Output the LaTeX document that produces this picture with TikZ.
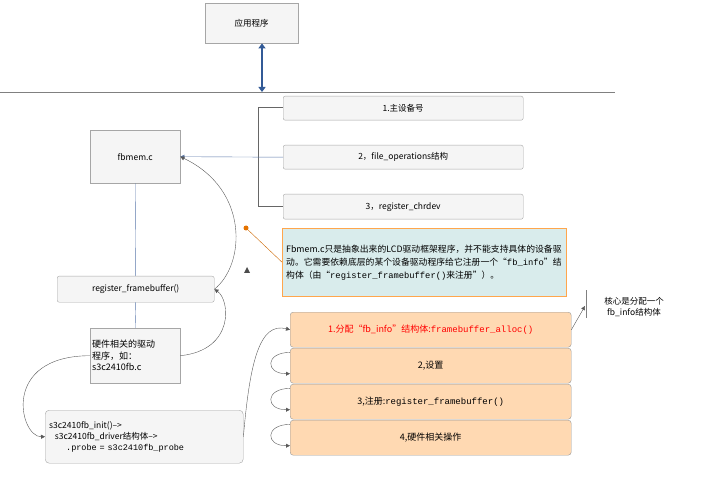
\documentclass[tikz,border=0pt]{standalone}
\usepackage{fontspec}
\setmainfont{Noto Sans CJK SC}
\setmonofont{Liberation Mono}
\XeTeXlinebreaklocale "zh"
\XeTeXlinebreakskip=0pt plus 1pt
\definecolor{LinkBlue}{RGB}{50,90,150}
\definecolor{ThinBlue}{RGB}{90,120,170}
\usetikzlibrary{arrows.meta,calc}
\begin{document}
\begin{tikzpicture}[x=1pt,y=-1pt,font=\fontsize{8.5}{11}\selectfont,
  box/.style={draw=gray!70,fill=gray!8,rounded corners=2pt,inner sep=0pt,anchor=north west},
  obox/.style={draw=gray!80,fill=orange!30,rounded corners=3pt,inner sep=0pt,anchor=north west,minimum width=281pt,minimum height=35pt,font=\fontsize{9}{11}\selectfont},
  curv/.style={draw=gray!70!black,-{Triangle[length=4pt,width=4pt]}},
  blu/.style={draw=ThinBlue}]
\useasboundingbox (0,0) rectangle (701,478);
\node[box,rounded corners=0pt,minimum width=93pt,minimum height=40pt] (app) at (205,3) {应用程序};
\coordinate (hl) at (0,92); \coordinate (hr) at (615,92);
\draw[gray] (hl) -- (hr);
\coordinate (ab) at (262,92);
\draw[LinkBlue,line width=1.8pt,{Triangle[length=5pt,width=7pt]}-{Triangle[length=5pt,width=7pt]}] (app.south -| ab) -- (ab);
\node[box,minimum width=240pt,minimum height=24pt] (r1) at (283,96) {1.主设备号};
\node[box,minimum width=240pt,minimum height=24pt] (r2) at (283,145) {2，file\_operations结构};
\node[box,minimum width=240pt,minimum height=25pt] (r3) at (283,194) {3，register\_chrdev};
\coordinate (b1) at (258,107); \coordinate (b3) at (258,206);
\draw[gray!80!black] (r1.west |- b1) -- (b1) -- (b3) -- (r3.west |- b3);
\node[box,rounded corners=0pt,minimum width=90pt,minimum height=53pt] (fb) at (90,130) {fbmem.c};
\draw[blu,-{Triangle[length=4pt,width=4pt]}] (r2.west) -- (fb.east);
\node[box,minimum width=157pt,minimum height=26pt] (reg) at (57,276) {register\_framebuffer()};
\node[box,rounded corners=0pt,minimum width=90pt,minimum height=55pt,align=left,text width=86pt,inner sep=2pt] (hw) at (90,328) {\fontsize{9}{12}\selectfont 硬件相关的驱动\\程序，如：\\s3c2410fb.c};
\draw[blu] (fb.south) -- (reg.north);
\draw[blu] (reg.south) -- (hw.north);
\node[box,rounded corners=4pt,minimum width=198pt,minimum height=53pt,align=left,text width=190pt,inner sep=4pt] (s3c) at (45,410)
 {s3c2410fb\_init()-->\\ \ \ s3c2410fb\_driver结构体-->\\ \ \ \ \ \ \ \texttt{.probe = s3c2410fb\_probe}};
\node[draw=orange!70,fill=teal!15,anchor=north west,minimum width=284pt,minimum height=68pt,text width=276pt,align=left,inner sep=3pt,font=\fontsize{8.8}{13}\selectfont] (note) at (282,228)
 {Fbmem.c只是抽象出来的LCD驱动框架程序，并不能支持具体的设备驱动。它需要依赖底层的某个设备驱动程序给它注册一个“\texttt{fb\_info}”结构体（由“\texttt{register\_framebuffer()}来注册”）。};
\coordinate (dot) at (246,228);
\draw[orange!80!black] (dot) -- (note.west);
\fill[orange!90!black] (dot) circle (2.5pt);
\fill[black!70] (244,273) -- (250,273) -- (247,267) -- cycle;
\draw[curv] (reg.east) .. controls (245,265) and (250,190) .. (fb.east);
\draw[curv] (hw.east) .. controls (235,350) and (230,300) .. (reg.east);
\draw[curv] (hw.west) .. controls (0,356) and (20,437) .. (s3c.west);
\node[obox,text=red] (o1) at (290,312) {1.分配“fb\_info”结构体:\texttt{framebuffer\_alloc()}};
\node[obox] (o2) at (290,348) {2,设置};
\node[obox] (o3) at (290,384) {3,注册:\texttt{register\_framebuffer()}};
\node[obox] (o4) at (290,420) {4,硬件相关操作};
\draw[curv] (s3c.east) .. controls (250,360) and (260,322) .. (o1.west);
\foreach \a/\b in {o1/o2,o2/o3,o3/o4}
  \draw[curv] ([yshift=-5pt]\a.south west) .. controls +(-25,0) and +(-25,0) .. ([yshift=-8pt]\b.west);
\coordinate (vt) at (586,290); \coordinate (vb) at (586,318);
\draw[gray] (vt) -- (vb);
\draw[curv] (o1.east) -- (585,306);
\node[align=center,inner sep=0pt] (core) at (634,307) {核心是分配一个\\fb\_info结构体};
\end{tikzpicture}
\end{document}
